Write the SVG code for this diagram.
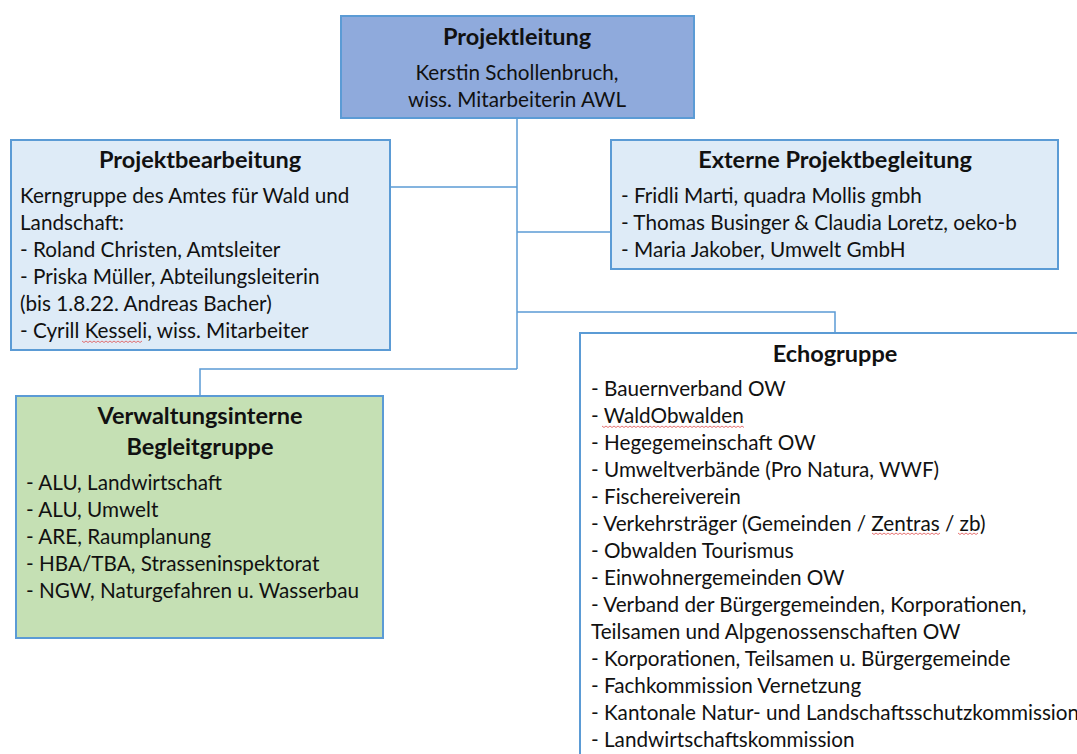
<svg xmlns="http://www.w3.org/2000/svg" width="1077" height="754" viewBox="0 0 1077 754">
<style>
.box{stroke:#5B9BD5;stroke-width:2}
.t{font-family:Lato,"Open Sans","Liberation Sans",sans-serif;font-size:20.7px;fill:#111}
.h{font-family:Lato,"Open Sans","Liberation Sans",sans-serif;font-size:23.5px;font-weight:bold;fill:#111;text-anchor:middle}
.c{text-anchor:middle}
.con{fill:none;stroke:#5B9BD5;stroke-width:1.5}
.sq{fill:none;stroke:#E05050;stroke-width:0.8}
</style>
<rect width="1077" height="754" fill="#fff"/>
<g id="connectors">
<path class="con" d="M517,118 V369"/>
<path class="con" d="M390,187 H517"/>
<path class="con" d="M517,232 H611"/>
<path class="con" d="M517,312 H835 V333"/>
<path class="con" d="M517,369 H200 V396"/>
</g>
<g id="projektleitung">
<rect class="box" x="341" y="16" width="353" height="102" fill="#8FAADC"/>
<text class="h" x="517" y="45">Projektleitung</text>
<text class="t c" x="517" y="80">Kerstin Schollenbruch,</text>
<text class="t c" x="517" y="107">wiss. Mitarbeiterin AWL</text>
</g>
<g id="projektbearbeitung">
<rect class="box" x="11" y="140" width="379" height="210" fill="#DEEBF7"/>
<text class="h" x="200" y="168">Projektbearbeitung</text>
<text class="t" x="20" y="203">Kerngruppe des Amtes für Wald und</text>
<text class="t" x="20" y="230">Landschaft:</text>
<text class="t" x="20" y="257">- Roland Christen, Amtsleiter</text>
<text class="t" x="20" y="284">- Priska Müller, Abteilungsleiterin</text>
<text class="t" x="20" y="311">(bis 1.8.22. Andreas Bacher)</text>
<text class="t" x="20" y="338">- Cyrill Kesseli, wiss. Mitarbeiter</text>
<path class="sq" d="M82,341 l2,1.5 l2,-1.5 l2,1.5 l2,-1.5 l2,1.5 l2,-1.5 l2,1.5 l2,-1.5 l2,1.5 l2,-1.5 l2,1.5 l2,-1.5 l2,1.5 l2,-1.5 l2,1.5 l2,-1.5 l2,1.5 l2,-1.5 l2,1.5 l2,-1.5 l2,1.5 l2,-1.5 l2,1.5 l2,-1.5 l2,1.5 l2,-1.5 l2,1.5 l2,-1.5 l2,1.5 l2,-1.5"/>
</g>
<g id="externe">
<rect class="box" x="611" y="140" width="447" height="129" fill="#DEEBF7"/>
<text class="h" x="835" y="168">Externe Projektbegleitung</text>
<text class="t" x="621" y="203">- Fridli Marti, quadra Mollis gmbh</text>
<text class="t" x="621" y="230">- Thomas Businger &amp; Claudia Loretz, oeko-b</text>
<text class="t" x="621" y="257">- Maria Jakober, Umwelt GmbH</text>
</g>
<g id="verwaltungsintern">
<rect class="box" x="16" y="396" width="367" height="242" fill="#C5E0B4"/>
<text class="h" x="200" y="424">Verwaltungsinterne</text>
<text class="h" x="200" y="455">Begleitgruppe</text>
<text class="t" x="26" y="490">- ALU, Landwirtschaft</text>
<text class="t" x="26" y="517">- ALU, Umwelt</text>
<text class="t" x="26" y="544">- ARE, Raumplanung</text>
<text class="t" x="26" y="571">- HBA/TBA, Strasseninspektorat</text>
<text class="t" x="26" y="598">- NGW, Naturgefahren u. Wasserbau</text>
</g>
<g id="echogruppe">
<rect class="box" x="580" y="333" width="520" height="440" fill="#fff"/>
<text class="h" x="835" y="362">Echogruppe</text>
<text class="t" x="591" y="396">- Bauernverband OW</text>
<text class="t" x="591" y="423">- WaldObwalden</text>
<text class="t" x="591" y="450">- Hegegemeinschaft OW</text>
<text class="t" x="591" y="477">- Umweltverbände (Pro Natura, WWF)</text>
<text class="t" x="591" y="504">- Fischereiverein</text>
<text class="t" x="591" y="531">- Verkehrsträger (Gemeinden / Zentras / zb)</text>
<text class="t" x="591" y="558">- Obwalden Tourismus</text>
<text class="t" x="591" y="585">- Einwohnergemeinden OW</text>
<text class="t" x="591" y="612">- Verband der Bürgergemeinden, Korporationen,</text>
<text class="t" x="591" y="639">Teilsamen und Alpgenossenschaften OW</text>
<text class="t" x="591" y="666">- Korporationen, Teilsamen u. Bürgergemeinde</text>
<text class="t" x="591" y="693">- Fachkommission Vernetzung</text>
<text class="t" x="591" y="720">- Kantonale Natur- und Landschaftsschutzkommission</text>
<text class="t" x="591" y="747">- Landwirtschaftskommission</text>
<path class="sq" d="M602,426 l2,1.5 l2,-1.5 l2,1.5 l2,-1.5 l2,1.5 l2,-1.5 l2,1.5 l2,-1.5 l2,1.5 l2,-1.5 l2,1.5 l2,-1.5 l2,1.5 l2,-1.5 l2,1.5 l2,-1.5 l2,1.5 l2,-1.5 l2,1.5 l2,-1.5 l2,1.5 l2,-1.5 l2,1.5 l2,-1.5 l2,1.5 l2,-1.5 l2,1.5 l2,-1.5 l2,1.5 l2,-1.5 l2,1.5 l2,-1.5 l2,1.5 l2,-1.5 l2,1.5 l2,-1.5 l2,1.5 l2,-1.5 l2,1.5 l2,-1.5 l2,1.5 l2,-1.5 l2,1.5 l2,-1.5 l2,1.5 l2,-1.5 l2,1.5 l2,-1.5 l2,1.5 l2,-1.5 l2,1.5 l2,-1.5 l2,1.5 l2,-1.5 l2,1.5 l2,-1.5 l2,1.5 l2,-1.5 l2,1.5 l2,-1.5 l2,1.5 l2,-1.5 l2,1.5 l2,-1.5 l2,1.5 l2,-1.5 l2,1.5 l2,-1.5 l2,1.5 l2,-1.5 l2,1.5"/>
<path class="sq" d="M872,533 l2,1.5 l2,-1.5 l2,1.5 l2,-1.5 l2,1.5 l2,-1.5 l2,1.5 l2,-1.5 l2,1.5 l2,-1.5 l2,1.5 l2,-1.5 l2,1.5 l2,-1.5 l2,1.5 l2,-1.5 l2,1.5 l2,-1.5 l2,1.5 l2,-1.5 l2,1.5 l2,-1.5 l2,1.5 l2,-1.5 l2,1.5 l2,-1.5 l2,1.5 l2,-1.5 l2,1.5 l2,-1.5 l2,1.5 l2,-1.5 l2,1.5 l2,-1.5"/>
<path class="sq" d="M958,533 l2,1.5 l2,-1.5 l2,1.5 l2,-1.5 l2,1.5 l2,-1.5 l2,1.5 l2,-1.5 l2,1.5 l2,-1.5"/>
</g>
</svg>
